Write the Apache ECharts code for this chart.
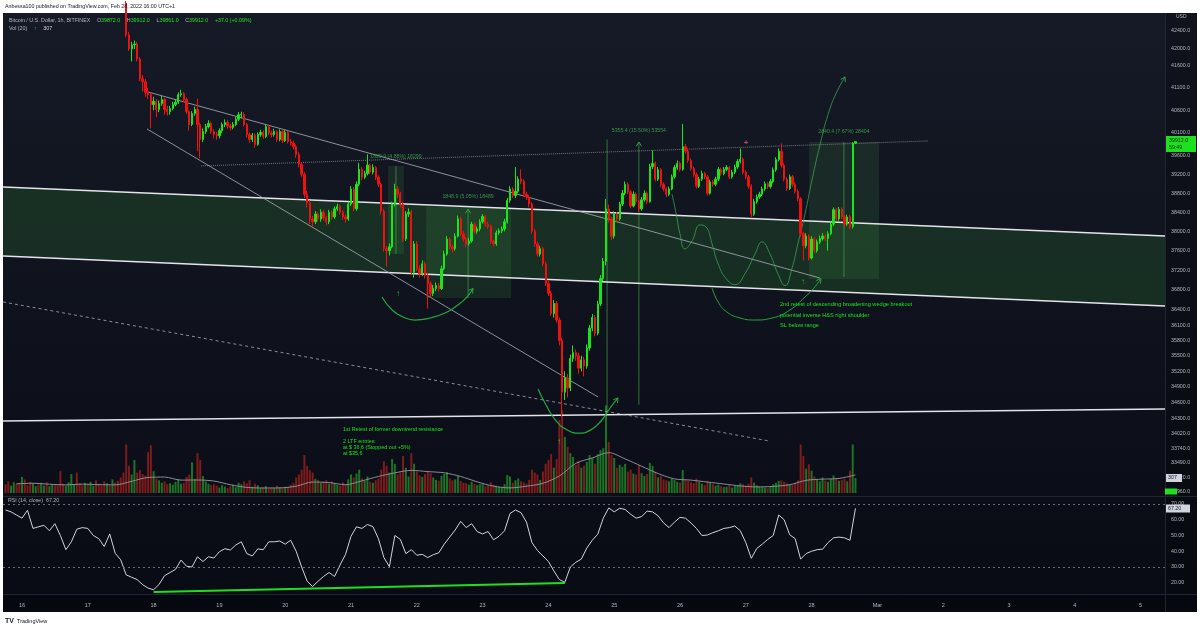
<!DOCTYPE html>
<html>
<head>
<meta charset="utf-8">
<title>BTCUSD 1h Bitfinex</title>
<script src="https://cdn.jsdelivr.net/npm/echarts@6/dist/echarts.min.js"></script>
<style>
html,body{margin:0;padding:0;background:#fff;}
#chart{width:1200px;height:630px;}
</style>
</head>
<body>
<div id="chart"></div>
<script>
// hours counted from Feb 16 00:00 (UTC+1), one candle per hour
const firstHour = -6
const firstOpen = 44200
const closes = [
  44150, 44080, 44220, 44310, 44190, 44050,
  44080, 44010, 43890, 43650, 43720, 43810, 43760, 43900, 44050, 43980, 44120, 44210, 44150, 43960, 43850, 43720, 43900, 44060, 44130, 44250, 44180, 44020, 43950, 44010,
  43880, 43920, 44050, 43970, 43860, 43780, 43650, 43700, 43590, 43620, 43480, 43350, 43200,
  43050, 42307, 41986, 42077, 42100, 41758, 41306, 41239, 41000, 40949, 40727,
  40800, 40617, 40750, 40840, 40617, 40570, 40640, 40727, 40780, 40949, 40970, 40838, 40570, 40286, 40530, 40617, 40286, 39959, 40130, 40240, 40310, 40130, 40068, 40040,
  40150, 40286, 40330, 40250, 40220, 40286, 40400, 40500, 40510, 40286, 40068, 39959, 40050, 39850, 40068, 40110, 40020, 40240, 40100, 40068, 40130, 39960, 40130, 39930,
  40110, 39910, 39880, 39800, 39630, 39420, 39205, 38780, 38600, 38257, 38200, 38360, 38257, 38400, 38280, 38200, 38400, 38300, 38470, 38520, 38400, 38300, 38257, 38571,
  38887, 38470, 38990, 39310, 39140, 39220, 39400, 39250, 39350, 39140, 38990, 38420, 37640, 37600, 37680, 38570, 38890, 38780, 38570, 37840, 38360, 38400, 37160, 37740,
  37230, 37130, 37330, 37090, 36930, 36730, 36830, 36890, 36830, 37230, 37530, 37840, 37680, 37640, 37900, 38260, 37950, 37840, 37740, 37800, 38150, 38000, 38050, 38200,
  38310, 38150, 38100, 37790, 37740, 37970, 38010, 38050, 38200, 38650, 38890, 38750, 38840, 39100, 39050, 38780, 38720, 38570, 38000, 37740, 37530, 37640, 37330, 36930,
  36730, 36330, 36530, 36200, 35800, 34800, 35070, 34880, 35450, 35560, 35500, 35260, 35420, 35300, 35650, 36040, 36250, 35940, 36520, 37030, 37380, 38470, 38260, 37900,
  38360, 38260, 38570, 38800, 38990, 38830, 38530, 38780, 38620, 38470, 38660, 38800, 38620, 39370, 39440, 39100, 39300, 38990, 38890, 38780, 38890, 39150, 39350, 39440,
  39310, 39800, 39700, 39500, 39330, 39200, 38950, 39100, 39220, 39150, 38800, 39040, 38990, 39100, 39310, 39220, 39310, 39350, 39150, 39250, 39360, 39480, 39530, 39250,
  39150, 38950, 38360, 38620, 38720, 38780, 38890, 39000, 38940, 39050, 39300, 39520, 39700, 39400, 39100, 38900, 39150, 38990, 38840, 38680, 37950, 37700, 37900, 37450,
  37840, 37600, 37780, 37850, 37900, 37850, 37950, 38150, 38450, 38260, 38460, 38300, 38150, 38300, 38100, 39875, 39912
]
const highs = [
  44260, 44200, 44300, 44400, 44330, 44210,
  44150, 44120, 44030, 43900, 43800, 43880, 43850, 43960, 44110, 44080, 44180, 44290, 44260, 44180, 43990, 43880, 43960, 44120, 44200, 44320, 44290, 44200, 44050, 44080,
  44040, 43990, 44110, 44080, 43990, 43880, 43810, 43780, 43720, 43690, 43650, 43520, 43400,
  43300, 43100, 42380, 42150, 42180, 42150, 41800, 41400, 41300, 41100, 41000,
  40900, 40850, 40820, 40920, 40880, 40700, 40700, 40790, 40850, 41000, 41060, 41010, 40880, 40600, 40580, 40680, 40860, 40330, 40200, 40300, 40380, 40350, 40180, 40130,
  40200, 40330, 40400, 40380, 40300, 40340, 40450, 40560, 40570, 40560, 40320, 40110, 40100, 40090, 40110, 40170, 40160, 40290, 40280, 40150, 40190, 40160, 40180, 40160,
  40160, 40140, 39970, 39930, 39850, 39680, 39460, 39250, 38850, 38650, 38320, 38420, 38400, 38460, 38450, 38330, 38450, 38440, 38520, 38580, 38560, 38440, 38350, 38620,
  38950, 38930, 39050, 39450, 39360, 39280, 39634, 39430, 39420, 39380, 39180, 39030, 38460, 37700, 37750, 38620, 39000, 38950, 38830, 38620, 38420, 38480, 38450, 37800,
  37800, 37300, 37400, 37380, 37150, 36980, 36900, 36950, 36940, 37290, 37600, 37900, 37880, 37720, 37960, 38330, 38300, 38000, 37880, 37860, 38200, 38190, 38100, 38250,
  38360, 38340, 38200, 38140, 37830, 38020, 38060, 38100, 38260, 38700, 38950, 38930, 39360, 39160, 39310, 39100, 38830, 38760, 38610, 38050, 37790, 37700, 37680, 37380,
  36980, 36780, 36600, 36580, 36250, 35850, 35200, 35150, 35520, 35700, 35620, 35560, 35500, 35480, 35720, 36100, 36320, 36300, 36580, 37100, 37450, 38680, 38560, 38300,
  38420, 38400, 38620, 38870, 39050, 39030, 38870, 38840, 38820, 38660, 38720, 38860, 38840, 39430, 39720, 39480, 39360, 39340, 39030, 38920, 38940, 39200, 39400, 39500,
  39480, 40300, 39860, 39740, 39540, 39370, 39240, 39150, 39280, 39260, 39190, 39090, 39080, 39150, 39360, 39350, 39360, 39400, 39380, 39300, 39410, 39530, 39760, 39570,
  39290, 39190, 38990, 38680, 38770, 38830, 38940, 39050, 39040, 39100, 39350, 39570, 39760, 39870, 39440, 39140, 39200, 39190, 39030, 38880, 38720, 37990, 37960, 37940,
  37900, 37880, 37830, 37910, 37960, 37940, 38000, 38200, 38500, 38490, 38510, 38500, 38340, 38350, 38340, 39900, 39912
]
const lows = [
  44100, 43990, 44050, 44180, 44130, 43980,
  43990, 43950, 43820, 43580, 43600, 43690, 43700, 43720, 43860, 43910, 43930, 44090, 44080, 43900, 43780, 43650, 43680, 43850, 44010, 44080, 44120, 43950, 43880, 43900,
  43820, 43840, 43880, 43900, 43800, 43700, 43590, 43610, 43530, 43540, 43420, 43290, 43130,
  42980, 42250, 41940, 41700, 41980, 41700, 41250, 41018, 40900, 40850, 40200,
  40600, 40450, 40560, 40700, 40500, 40480, 40500, 40600, 40690, 40740, 40900, 40780, 40520, 40150, 40250, 40480, 39700, 39550, 39900, 40080, 40200, 40080, 39980, 39950,
  39980, 40100, 40230, 40190, 40150, 40180, 40250, 40360, 40420, 40240, 40000, 39880, 39900, 39780, 39820, 40020, 39970, 39990, 40050, 40000, 40020, 39900, 39920, 39880,
  39900, 39870, 39820, 39740, 39560, 39350, 39150, 38700, 38500, 38150, 38100, 38150, 38200, 38200, 38220, 38120, 38150, 38240, 38260, 38430, 38350, 38240, 38180, 38220,
  38530, 38420, 38430, 38950, 39080, 39100, 39180, 39200, 39200, 39080, 38930, 38350, 37580, 37270, 37500, 37650, 38520, 38700, 38500, 37780, 37800, 38300, 37100, 37050,
  37180, 37050, 37080, 37030, 36430, 36650, 36680, 36780, 36770, 36800, 37200, 37500, 37620, 37560, 37600, 37870, 37900, 37780, 37680, 37700, 37760, 37950, 37950, 38000,
  38160, 38100, 38050, 37740, 37690, 37700, 37930, 37960, 38000, 38160, 38600, 38700, 38700, 38800, 38990, 38720, 38660, 38500, 37950, 37680, 37480, 37480, 37280, 36880,
  36680, 36280, 36250, 36150, 35700, 34330, 34650, 34700, 34820, 35380, 35400, 35150, 35200, 35100, 35250, 35600, 35980, 35880, 35900, 36480, 36980, 37300, 38180, 37820,
  37850, 38200, 38220, 38530, 38760, 38780, 38480, 38500, 38560, 38400, 38430, 38620, 38570, 38600, 39320, 39050, 39060, 38940, 38840, 38720, 38740, 38860, 39110, 39300,
  39260, 39280, 39650, 39450, 39280, 39150, 38900, 38910, 39060, 39100, 38750, 38770, 38940, 38950, 39060, 39170, 39180, 39270, 39100, 39110, 39210, 39320, 39440, 39200,
  39100, 38900, 38300, 38320, 38580, 38680, 38740, 38850, 38890, 38900, 39010, 39260, 39480, 39350, 39050, 38850, 38870, 38940, 38790, 38630, 37880, 37400, 37650, 37400,
  37420, 37550, 37560, 37740, 37810, 37800, 37600, 37920, 38110, 38210, 38220, 38250, 38100, 38110, 38050, 38060, 39861
]
const volumes = [
  180, 240, 150, 220, 190, 210,
  330, 280, 160, 230, 190, 140, 170, 210, 150, 220, 140, 180, 160, 170, 450, 190, 150, 220, 390, 170, 420, 200, 160, 210,
  180, 230, 150, 260, 190, 150, 240, 200, 160, 280, 220, 250, 320, 420,
  1000, 560, 380, 680, 420, 470, 390, 360, 840, 980,
  450, 300, 260, 210, 240, 180, 200, 170, 230, 280, 190, 210, 330, 380, 630, 290, 820, 680, 350, 240, 190, 160, 180, 150,
  110, 160, 130, 100, 140, 170, 120, 210, 180, 240, 200, 260, 130, 190, 160, 100, 120, 140, 90, 110, 100, 150, 120, 100,
  130, 120, 170, 200, 320, 380, 480, 780, 560, 470, 420, 290, 270, 210, 230, 260, 190, 240, 200, 170, 150, 220, 180, 280,
  380, 320, 400, 480, 300, 250, 340, 230, 210, 260, 300, 480, 650, 560, 420, 700, 600, 380, 420, 760, 520, 340, 820, 600,
  440, 360, 330, 390, 460, 410, 320, 270, 250, 350, 390, 430, 300, 260, 280, 350, 250, 210, 200, 170, 230, 190, 160, 180,
  190, 140, 160, 220, 170, 150, 130, 120, 180, 370, 340, 210, 260, 300, 240, 220, 190, 270, 480, 420, 380, 270, 440, 600,
  680, 800, 520, 700, 1500, 1700, 1150, 950, 820, 740, 580, 660, 520, 560, 640, 780, 720, 600, 800, 880, 920, 1800, 1050, 780,
  720, 520, 580, 540, 600, 440, 480, 400, 380, 580, 410, 350, 390, 620, 560, 440, 320, 350, 280, 260, 240, 300, 270, 230,
  210, 470, 280, 250, 220, 200, 300, 230, 190, 160, 250, 210, 180, 150, 170, 140, 120, 130, 160, 110, 140, 160, 200, 180,
  150, 190, 320, 210, 160, 130, 120, 110, 100, 130, 180, 210, 250, 260, 230, 200, 180, 160, 210, 260, 1000, 760, 500, 590,
  460, 340, 280, 240, 320, 260, 230, 290, 360, 300, 250, 270, 290, 240, 460, 1000, 307
]
// Vol (20) moving average, read every 6 hours
const volMaStart = -2
const volMaStep = 6
const volMa = [
  190, 200, 180, 168, 182, 172, 168, 240, 320, 328, 265, 267, 246,
  170, 115, 103, 105, 140, 225, 215, 170, 250, 340, 415, 465, 440,
  415, 340, 230, 140, 105, 140, 200, 350, 610, 720, 830, 700, 550,
  400, 290, 265, 225, 185, 145, 125, 135, 170, 260, 285, 300, 370
]
// RSI (14, close), read every 2 hours
const rsiStart = -6
const rsiStep = 2
const rsi = [
  66.2, 65, 63, 61, 66, 54.5, 55.5, 56.5, 53, 57.5, 50, 41,
  46, 54, 55, 54.5, 50, 48, 43, 51, 38.7, 34.6, 25, 23.5,
  22, 18.8, 16.6, 15.5, 19, 24.5, 26.5, 28.5, 34.4, 30.5, 30, 36.5,
  33.5, 36.5, 35.7, 39.7, 41.6, 40.8, 44, 46, 38.5, 37, 41.5, 41,
  46, 46, 46.5, 44.5, 47, 40, 30, 21, 17.6, 21, 24, 26.5,
  24, 31.3, 38, 49.5, 55.5, 54.5, 57, 55.6, 48, 36, 30.2, 50,
  47.5, 38.5, 41, 37.5, 38, 36, 37.8, 39, 44.5, 49, 53.5, 59,
  55, 57.5, 52.5, 51, 52.5, 47.3, 49.5, 53, 64, 66.2, 64.5, 58.5,
  45.5, 40.5, 37, 33.5, 27.5, 22, 20.3, 30, 33, 35, 42, 47,
  50.8, 60.9, 67.5, 65, 67.3, 66.5, 63.5, 61, 62, 65.5, 65, 62.5,
  58, 55, 58.5, 61.5, 61, 58, 54.5, 50, 50.3, 51.8, 53, 54.5,
  55, 56, 53, 45.5, 35.5, 41.8, 44.5, 47.5, 50, 63, 60, 50.5,
  48, 35, 38.5, 40, 41, 41.3, 45.5, 48.5, 49, 48.5, 47, 67.2
]
const rsiTrend = [[48, 14.2], [198, 19.9]]

const dayLabels = ['16', '17', '18', '19', '20', '21', '22', '23', '24', '25', '26', '27', '28', 'Mar', '2', '3', '4', '5']
const priceTicks = [42400, 42000, 41600, 41100, 40600, 40100, 39600, 39200, 38800, 38400, 38000, 37600, 37200, 36800,
  36400, 36100, 35800, 35500, 35200, 34900, 34600, 34300, 34020, 33740, 33490, 33220, 32960]
const rsiTicks = [20, 30, 40, 50, 60, 70]

// drawings, as [hour, price]
const channelTop = [[-6.9, 38933], [416.9, 37903]]
const channelBottom = [[-6.9, 37491], [416.9, 36480]]
const supportLine = [[-6.9, 34256], [416.9, 34482]]
const wedgeTop = [[46, 41009], [291, 37043]]
const wedgeBottom = [[45.6, 40188], [210.1, 34709]]
const neckline = [[65.3, 39383], [330.5, 39925]]
const oldTrend = [[-6.9, 36560], [272.5, 33884]]
// [hourFrom, hourTo, priceLow, priceHigh]
const rangeBoxes = [[133.5, 139.3, 37532, 39383], [147.4, 178.4, 36640, 38509], [287.1, 312.6, 37022, 39903]]
// [hour, priceFrom, priceTo]
const measureLines = [[136.4, 39383, 37532], [162.7, 36640, 38466], [213.4, 34407, 39959], [225.0, 34558, 39903], [299.8, 37064, 39903]]
const measureAnchors = [[136.4, 39577], [162.7, 38721], [225.0, 40143], [299.8, 40120]]
const measureTexts = ['1829.9 (4.88%) 18299', '1848.9 (5.05%) 18489', '5355.4 (15.50%) 53554', '2840.4 (7.67%) 28404']
const curveA = [[131.3, 36660], [135, 36400], [139, 36260], [143.3, 36200], [148.8, 36240], [154.3, 36340], [159, 36500], [162, 36640], [164.5, 36830]]
const curveB = [[188.2, 34860], [191.1, 34560], [194.8, 34256], [198.8, 34090], [203.2, 34030], [207.5, 34090], [211.2, 34256], [214.5, 34500], [217.4, 34690]]
const curveC = [[237.1, 38781], [238.6, 38362], [240, 37946], [241.8, 37638], [244.4, 37802], [247.3, 38132], [249.5, 38091], [251.7, 37740],
  [253.9, 37332], [256.8, 37030], [260.1, 36909], [263.7, 37130], [267.4, 37536], [269.9, 37781], [272.8, 37536], [275.7, 37130],
  [278.3, 36889], [280.8, 37231], [283, 37740], [285.6, 38362], [288.2, 39099], [291.1, 39850], [294, 40506], [297, 40987], [300.2, 41347]]
const curveD = [[251.7, 36841], [253.9, 36560], [257.1, 36360], [261.9, 36241], [267.4, 36201], [273.6, 36241], [280.1, 36400], [285.6, 36660], [288.9, 36841], [291.4, 37030]]
const markerPoints = [[137.1, 36729], [195.9, 33866], [284.9, 36969], [264.1, 39875]]
const markerGlyphs = ['↑', '↑', '↑', '+']

const FONT = "'Liberation Sans', 'DejaVu Sans', sans-serif"
const UP = '#19e619'
const DOWN = '#f01010'
const AXIS_TXT = '#b2b5be'
const X_MIN = -6.93
const X_MAX = 416.9
const PRICE_MIN = 32897
const PRICE_MAX = 42819

let opens = closes.map((c, i) => i === 0 ? firstOpen : closes[i - 1])
let n = Math.min(closes.length, highs.length, lows.length, volumes.length)
if (n !== closes.length) console.log('length mismatch', closes.length, highs.length, lows.length, volumes.length)

let candles = []
let volBars = []
for (let i = 0; i < n; i++) {
  let h = firstHour + i
  candles.push([h, Math.log(opens[i]), Math.log(closes[i]), Math.log(lows[i]), Math.log(highs[i])])
  volBars.push({value: [h, volumes[i]], itemStyle: {color: closes[i] >= opens[i] ? '#1c7325' : '#7e1c1c'}})
}
const lg = pts => pts.map(p => [p[0], Math.log(p[1])])

function drawLine(pts, style, extra) {
  return Object.assign({
    type: 'line', xAxisIndex: 0, yAxisIndex: 0, z: 4, silent: true, symbol: 'none',
    data: lg(pts), lineStyle: style
  }, extra || {})
}

const arrowPaths = [curveA, curveB, curveC, curveD,
  [[162.7, 36640], [162.7, 38466]], [[225.0, 34558], [225.0, 39903]]]

function arrowItem(params, api) {
  let pts = arrowPaths[params.dataIndex]
  let a = api.coord([pts[pts.length - 2][0], Math.log(pts[pts.length - 2][1])])
  let b = api.coord([pts[pts.length - 1][0], Math.log(pts[pts.length - 1][1])])
  let ang = Math.atan2(b[1] - a[1], b[0] - a[0])
  let s = 5
  return {
    type: 'polyline',
    shape: {points: [[b[0] - s * Math.cos(ang - 0.55), b[1] - s * Math.sin(ang - 0.55)], b,
      [b[0] - s * Math.cos(ang + 0.55), b[1] - s * Math.sin(ang + 0.55)]]},
    style: {stroke: '#24a83c', lineWidth: 1, fill: null}
  }
}

function txt(x, y, text, size, color, extra) {
  return Object.assign({
    type: 'text', x: x, y: y, z: 100, silent: true,
    style: {text: text, fontSize: size, fill: color, fontFamily: FONT, verticalAlign: 'middle'}
  }, extra || {})
}
function box(x, y, w, h, color) {
  return {type: 'rect', z: 99, silent: true, shape: {x: x, y: y, width: w, height: h}, style: {fill: color}}
}
function hline(x1, x2, y, color) {
  return {type: 'line', z: -5, silent: true, shape: {x1: x1, y1: y, x2: x2, y2: y}, style: {stroke: color, lineWidth: 1}}
}

let myChart = echarts.init(document.getElementById('chart'))

const gridBase = {left: 3, right: 35, outerBoundsMode: 'none'}
const xBase = {type: 'value', min: X_MIN, max: X_MAX, axisLine: {show: false}, axisTick: {show: false}, splitLine: {show: false}}

myChart.setOption({
  animation: false,
  backgroundColor: '#ffffff',
  grid: [
    Object.assign({top: 13, height: 482}, gridBase),
    Object.assign({top: 350, height: 143}, gridBase),
    Object.assign({top: 497, height: 97}, gridBase)
  ],
  xAxis: [
    Object.assign({gridIndex: 0, axisLabel: {show: false}}, xBase),
    Object.assign({gridIndex: 1, axisLabel: {show: false}}, xBase),
    Object.assign({
      gridIndex: 2,
      axisLabel: {
        show: true, color: AXIS_TXT, fontSize: 5.5, fontFamily: FONT, margin: 8,
        customValues: dayLabels.map((d, i) => i * 24),
        formatter: v => dayLabels[Math.round(v / 24)]
      }
    }, xBase)
  ],
  yAxis: [
    {
      gridIndex: 0, type: 'value', position: 'right', min: Math.log(PRICE_MIN), max: Math.log(PRICE_MAX),
      axisLine: {show: false}, axisTick: {show: false}, splitLine: {show: false},
      axisLabel: {
        color: AXIS_TXT, fontSize: 5.3, fontFamily: FONT, margin: 6,
        customValues: priceTicks.map(p => Math.log(p)),
        formatter: v => Math.round(Math.exp(v)).toFixed(1)
      }
    },
    {gridIndex: 1, type: 'value', min: 0, max: 2940, show: false},
    {
      gridIndex: 2, type: 'value', position: 'right', min: 12.86, max: 74.44,
      axisLine: {show: false}, axisTick: {show: false}, splitLine: {show: false},
      axisLabel: {
        color: AXIS_TXT, fontSize: 5.3, fontFamily: FONT, margin: 6,
        customValues: rsiTicks, formatter: v => v.toFixed(2)
      }
    }
  ],
  graphic: [
    {type: 'rect', z: -10, silent: true, shape: {x: 3, y: 13, width: 1194, height: 599},
      style: {fill: new echarts.graphic.LinearGradient(0, 0, 0, 1, [{offset: 0, color: '#161a26'}, {offset: 1, color: '#080b14'}])}},
    {type: 'rect', z: -9, silent: true, shape: {x: 1165, y: 13, width: 32, height: 582},
      style: {fill: new echarts.graphic.LinearGradient(0, 0, 0, 1, [{offset: 0, color: '#10131c'}, {offset: 1, color: '#070910'}])}},
    {type: 'rect', z: -9, silent: true, shape: {x: 3, y: 595, width: 1194, height: 17}, style: {fill: '#05080f'}},
    hline(3, 1197, 496.5, '#222632'),
    hline(3, 1197, 594.5, '#222632'),
    {type: 'line', z: -5, silent: true, shape: {x1: 1165.5, y1: 13, x2: 1165.5, y2: 612}, style: {stroke: '#222632', lineWidth: 1}},

    txt(5, 6.5, 'Anbessa100 published on TradingView.com, Feb 28, 2022 16:00 UTC+1', 5.3, '#131722'),
    {
      type: 'text', x: 9, y: 21, z: 100, silent: true,
      style: {
        text: '{g|Bitcoin / U.S. Dollar, 1h, BITFINEX}  {g|O}{v|39872.0}  {g|H}{v|39912.0}  {g|L}{v|39861.0}  {g|C}{v|39912.0}  {v|+37.0 (+0.09%)}',
        verticalAlign: 'middle',
        rich: {
          g: {fill: AXIS_TXT, fontSize: 5.3, fontFamily: FONT},
          v: {fill: UP, fontSize: 5.3, fontFamily: FONT}
        }
      }
    },
    {
      type: 'text', x: 9, y: 29, z: 100, silent: true,
      style: {
        text: '{g|Vol (20)}  {v|↑}  {w|307}', verticalAlign: 'middle',
        rich: {
          g: {fill: AXIS_TXT, fontSize: 5.3, fontFamily: FONT},
          v: {fill: UP, fontSize: 5.3, fontFamily: FONT},
          w: {fill: '#d1d4dc', fontSize: 5.3, fontFamily: FONT}
        }
      }
    },
    txt(1176, 17, 'USD', 5, AXIS_TXT),
    txt(8, 500.5, 'RSI (14, close)  67.20', 5.3, AXIS_TXT),

    txt(780, 304, '2nd retest of descending broadening wedge breakout', 5.6, UP),
    txt(780, 315, 'potential inverse H&S right shoulder', 5.6, UP),
    txt(780, 325, 'SL below range', 5.6, UP),
    txt(343, 430, '1st Retest of former downtrend resistance', 5.4, UP),
    txt(343, 442, '2 LTF entries:', 5.4, UP),
    txt(343, 447.7, 'at $ 36,6 (Stopped out +5%)', 5.4, UP),
    txt(343, 453.3, 'at $35,6', 5.4, UP),

    box(1166, 136, 30, 16, '#1ee01e'),
    txt(1169, 141, '39912.0', 5.3, '#0b2a0b'),
    txt(1169, 148, '59:49', 5.3, '#0b2a0b'),
    box(1166, 474, 16, 8, '#d1d4dc'),
    txt(1168, 478, '307', 5.3, '#131722'),
    box(1165, 488.5, 12, 6, '#1ee01e'),
    box(1166, 504.5, 24, 8, '#d1d4dc'),
    txt(1168, 508.5, '67.20', 5.3, '#131722'),

    txt(5, 621, 'TV', 7, '#131722', {style: {text: 'TV', fontSize: 7, fontWeight: 'bold', fill: '#131722', fontFamily: FONT, verticalAlign: 'middle'}}),
    txt(17, 621, 'TradingView', 5.5, '#131722')
  ],
  series: [
    {
      type: 'custom', xAxisIndex: 0, yAxisIndex: 0, z: 1, silent: true,
      data: [lg(channelTop)[0]],
      renderItem: (params, api) => ({
        type: 'polygon',
        shape: {points: lg(channelTop.concat(channelBottom.slice().reverse())).map(p => api.coord(p))},
        style: {fill: 'rgba(46,125,50,0.26)'}
      })
    },
    {
      type: 'custom', xAxisIndex: 0, yAxisIndex: 0, z: 1, silent: true,
      data: rangeBoxes.map(b => [b[0], b[1], Math.log(b[2]), Math.log(b[3])]),
      encode: {x: [0, 1], y: [2, 3]},
      renderItem: (params, api) => {
        let a = api.coord([api.value(0), api.value(3)])
        let b = api.coord([api.value(1), api.value(2)])
        return {type: 'rect', shape: {x: a[0], y: a[1], width: b[0] - a[0], height: b[1] - a[1]}, style: {fill: 'rgba(76,175,80,0.14)'}}
      }
    },
    {
      type: 'bar', name: 'Vol', xAxisIndex: 1, yAxisIndex: 1, z: 2, silent: true,
      barWidth: 2, data: volBars
    },
    {
      type: 'line', xAxisIndex: 1, yAxisIndex: 1, z: 3, silent: true, symbol: 'none', smooth: 0.3,
      data: volMa.map((v, i) => [volMaStart + i * volMaStep, v]),
      lineStyle: {color: '#8a8d96', width: 1}
    },
    drawLine(channelTop, {color: '#e3e5ea', width: 1.5}),
    drawLine(channelBottom, {color: '#e3e5ea', width: 1.5}),
    drawLine(supportLine, {color: '#e3e5ea', width: 1.5}),
    drawLine(wedgeTop, {color: 'rgba(170,174,184,0.8)', width: 1}),
    drawLine(wedgeBottom, {color: 'rgba(170,174,184,0.8)', width: 1}),
    drawLine(neckline, {color: 'rgba(190,194,204,0.55)', width: 1, type: 'dotted'}),
    drawLine(oldTrend, {color: 'rgba(190,194,204,0.7)', width: 1, type: [3, 3]}),
    {
      type: 'custom', xAxisIndex: 0, yAxisIndex: 0, z: 4, silent: true,
      data: measureLines.map(m => [m[0], Math.log(m[1]), Math.log(m[2])]),
      encode: {x: 0, y: [1, 2]},
      renderItem: (params, api) => {
        let a = api.coord([api.value(0), api.value(1)])
        let b = api.coord([api.value(0), api.value(2)])
        return {type: 'line', shape: {x1: a[0], y1: a[1], x2: b[0], y2: b[1]}, style: {stroke: 'rgba(76,175,80,0.6)', lineWidth: 1}}
      }
    },
    drawLine(curveA, {color: '#24a83c', width: 1.2}, {smooth: 0.5}),
    drawLine(curveB, {color: '#24a83c', width: 1.2}, {smooth: 0.5}),
    drawLine(curveC, {color: 'rgba(60,170,80,0.75)', width: 1}, {smooth: 0.5}),
    drawLine(curveD, {color: '#24a83c', width: 1}, {smooth: 0.5}),
    {
      type: 'custom', xAxisIndex: 0, yAxisIndex: 0, z: 4, silent: true,
      data: arrowPaths.map(p => [p[p.length - 1][0], Math.log(p[p.length - 1][1])]),
      renderItem: arrowItem
    },
    {
      type: 'candlestick', xAxisIndex: 0, yAxisIndex: 0, z: 5, silent: true,
      barWidth: 1.8, data: candles,
      itemStyle: {color: UP, color0: DOWN, borderColor: UP, borderColor0: DOWN, borderWidth: 1}
    },
    {
      type: 'scatter', xAxisIndex: 0, yAxisIndex: 0, z: 6, silent: true, symbolSize: 0,
      data: measureAnchors.map((p, i) => ({value: [p[0], Math.log(p[1])], label: {formatter: measureTexts[i]}})),
      label: {show: true, position: 'inside', color: '#3cb64e', fontSize: 5.2, fontFamily: FONT}
    },
    {
      type: 'scatter', xAxisIndex: 0, yAxisIndex: 0, z: 6, silent: true, symbolSize: 0,
      data: markerPoints.map((p, i) => ({
        value: [p[0], Math.log(p[1])],
        label: {formatter: markerGlyphs[i], color: markerGlyphs[i] === '+' ? '#f0506e' : UP}
      })),
      label: {show: true, position: 'inside', fontSize: 8, fontWeight: 'bold', fontFamily: FONT}
    },
    {
      type: 'line', xAxisIndex: 2, yAxisIndex: 2, z: 4, silent: true, symbol: 'none',
      data: rsi.map((v, i) => [rsiStart + i * rsiStep, v]),
      lineStyle: {color: '#d1d4dc', width: 1},
      markLine: {
        silent: true, symbol: 'none', label: {show: false},
        lineStyle: {color: '#6a6d78', type: [2, 3], width: 1},
        data: [{yAxis: 70}, {yAxis: 30}]
      }
    },
    {
      type: 'line', xAxisIndex: 2, yAxisIndex: 2, z: 5, silent: true, symbol: 'none',
      data: rsiTrend, lineStyle: {color: '#1ee01e', width: 2}
    }
  ]
})
</script>
</body>
</html>
